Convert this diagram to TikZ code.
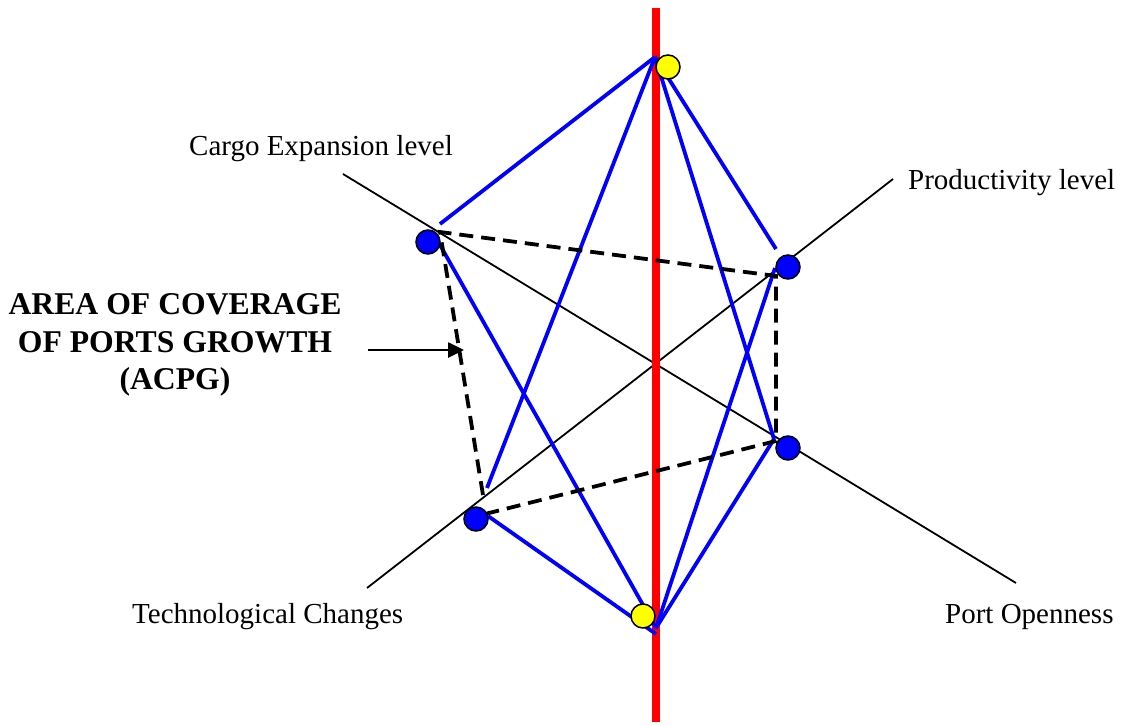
\documentclass[tikz,border=0pt]{standalone}
\usepackage{fontspec}
\setmainfont{Liberation Serif}
\usetikzlibrary{arrows.meta}
\definecolor{pblue}{RGB}{0,0,255}
\definecolor{pred}{RGB}{255,0,0}
\definecolor{pyellow}{RGB}{255,255,0}
\begin{document}
\begin{tikzpicture}[x=1pt,y=-1pt,
  axisline/.style={line width=1.8pt,black},
  redaxis/.style={line width=7.5pt,pred},
  link/.style={line width=3.8pt,pblue},
  area/.style={line width=3.8pt,black,dash pattern=on 14pt off 8pt},
  bdot/.style={circle,draw=black,line width=1.5pt,fill=pblue,minimum size=24pt,inner sep=0pt},
  ydot/.style={circle,draw=black,line width=1.5pt,fill=pyellow,minimum size=24pt,inner sep=0pt},
  lab/.style={font=\fontsize{29}{34}\selectfont,inner sep=0pt,anchor=base west},
  pointer/.style={line width=2.6pt,black,-{Triangle[length=16pt,width=15pt]}}
  ]
\useasboundingbox (0,0) rectangle (1121,725);
% axis ends
\coordinate (cargoEnd) at (343,174);
\coordinate (portEnd) at (1016,583);
\coordinate (techEnd) at (367,588);
\coordinate (prodEnd) at (893,179);
\coordinate (redTop) at (656,8);
\coordinate (redBot) at (656,722);
% blue line ends
\coordinate (T) at (655,57);
\coordinate (B) at (656,628);
\coordinate (Bl) at (656,634);
\coordinate (c1) at (440,224);
\coordinate (c2) at (440,245);
\coordinate (p1) at (776,249);
\coordinate (p2) at (775,268);
\coordinate (q) at (774,439);
\coordinate (t1) at (487,488);
\coordinate (t2) at (488,516);
% dashed area corners
\coordinate (d1) at (483,495);
\coordinate (d2) at (440,232);
\coordinate (d3) at (776,276);
\coordinate (d4) at (776,441);
\coordinate (d5) at (485,514);
% arrow
\coordinate (arrS) at (368,350);
\coordinate (arrE) at (464,350);

\draw[axisline] (cargoEnd) -- (portEnd);
\draw[axisline] (techEnd) -- (prodEnd);
\draw[redaxis] (redTop) -- (redBot);

\draw[link] (T) -- (c1);
\draw[link] (T) -- (t1);
\draw[link] (T) -- (p1);
\draw[link] (T) -- (q);
\draw[link] (c2) -- (B);
\draw[link] (t2) -- (Bl);
\draw[link] (p2) -- (B);
\draw[link] (q) -- (B);

\draw[area] (d1) -- (d2) -- (d3) -- (d4) -- (d5);

\node[bdot] (cargo) at (428,242) {};
\node[bdot] (prod) at (788,267) {};
\node[bdot] (port) at (788,448) {};
\node[bdot] (tech) at (476,519) {};
\node[ydot] (topY) at (668,67) {};
\node[ydot] (botY) at (643,616) {};

\node[lab] (cargoLab) at (189,155) {Cargo Expansion level};
\node[lab] (prodLab) at (908,189) {Productivity level};
\node[lab] (techLab) at (132,623) {Technological Changes};
\node[lab] (portLab) at (945,623) {Port Openness};

\node[align=center,inner sep=0pt,font=\bfseries\fontsize{31.7}{37.5}\selectfont] (acpg) at (175,345)
  {AREA OF COVERAGE\\OF PORTS GROWTH\\(ACPG)};
\draw[pointer] (arrS) -- (arrE);
\end{tikzpicture}
\end{document}
